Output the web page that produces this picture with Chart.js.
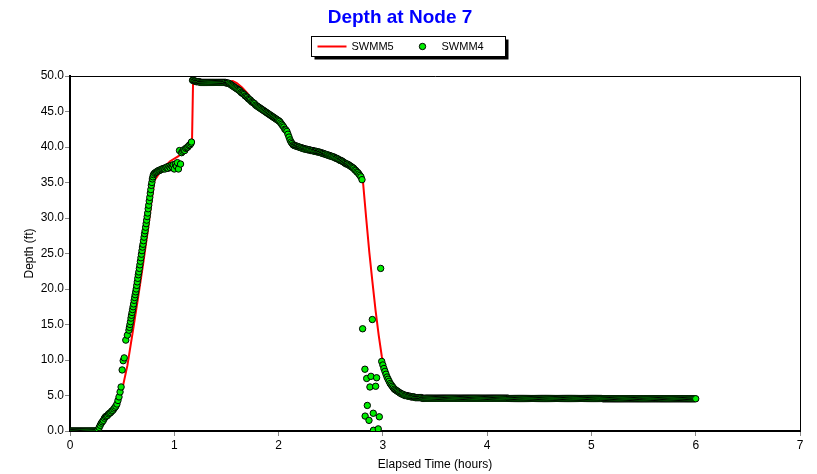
<!DOCTYPE html>
<html>
<head>
<meta charset="utf-8">
<title>Depth at Node 7</title>
<script src="https://cdn.jsdelivr.net/npm/chart.js@4.4.1/dist/chart.umd.min.js"></script>
<style>
  html, body { margin: 0; padding: 0; background: #fff; }
  #wrap { width: 817px; height: 474px; position: relative; }
</style>
</head>
<body>
<div id="wrap"><canvas id="depthChart"></canvas></div>
<script>
// SWMM5 results (red line)
const swmm5Hours = [
  0, 0.26, 0.30, 0.35, 0.40, 0.45, 0.50, 0.55, 0.60, 0.65,
  0.70, 0.75, 0.78, 0.81, 0.88, 0.96, 1.04, 1.10, 1.17, 1.18,
  1.52, 1.56, 1.60, 1.65, 1.70, 1.75, 1.80, 1.90, 2.00, 2.05,
  2.10, 2.15, 2.30, 2.50, 2.70, 2.78, 2.81, 2.84, 2.87, 2.90,
  2.93, 2.96, 2.99, 3.02, 3.05, 3.10, 3.16, 3.25, 3.40, 3.60,
  6.00
];
const swmm5Depth = [
  0, 0, 0.9, 1.9, 2.7, 3.6, 5.8, 9.2, 13.8, 18.5,
  23.4, 28.6, 32.2, 35.3, 36.8, 38.0, 38.7, 39.5, 40.8, 49.2,
  49.2, 49.3, 49.0, 48.4, 47.6, 46.5, 45.8, 44.7, 43.7, 42.9,
  41.5, 40.2, 39.6, 38.8, 37.2, 36.0, 35.0, 30.0, 25.2, 21.0,
  17.0, 13.5, 10.5, 8.6, 7.4, 6.1, 5.3, 4.9, 4.7, 4.6,
  4.55
];

// SWMM4 results (green markers)
const swmm4Hours = [
  // dry start
  0, 0.01, 0.02, 0.03, 0.04, 0.05, 0.06, 0.07, 0.08, 0.09,
  0.10, 0.11, 0.12, 0.13, 0.14, 0.15, 0.16, 0.17, 0.18, 0.19,
  0.20, 0.21, 0.22, 0.23, 0.24, 0.25, 0.26,
  // first rise
  0.27, 0.28, 0.29, 0.30, 0.31, 0.32, 0.33, 0.34, 0.35, 0.36,
  0.37, 0.38, 0.39, 0.40, 0.41, 0.42, 0.43, 0.44, 0.45, 0.46,
  0.47, 0.48, 0.49, 0.50, 0.51, 0.52, 0.535, 0.55, 0.565,
  // steep rise
  0.57, 0.575, 0.58, 0.585, 0.59, 0.595, 0.60, 0.605, 0.61, 0.615,
  0.62, 0.625, 0.63, 0.635, 0.64, 0.645, 0.65, 0.655, 0.66, 0.665,
  0.67, 0.675, 0.68, 0.685, 0.69, 0.695, 0.70, 0.705, 0.71, 0.715,
  0.72, 0.725, 0.73, 0.735, 0.74, 0.745, 0.75, 0.755, 0.76, 0.765,
  0.77, 0.775, 0.78, 0.785, 0.79, 0.795, 0.80,
  // shoulder
  0.81, 0.82, 0.83, 0.84, 0.85, 0.86, 0.87, 0.88, 0.89, 0.90,
  0.91, 0.92, 0.93, 0.94, 0.95, 0.96, 0.97, 0.98, 0.99, 1.00,
  1.01, 1.02, 1.03, 1.04, 1.05, 1.06, 1.07, 1.08, 1.09, 1.10,
  1.11, 1.12, 1.13, 1.14, 1.15, 1.16, 1.165,
  // peak
  1.175, 1.18, 1.19, 1.20, 1.21, 1.22, 1.23, 1.24, 1.25, 1.26,
  1.27, 1.28, 1.29, 1.30, 1.31, 1.32, 1.33, 1.34, 1.35, 1.36,
  1.37, 1.38, 1.39, 1.40, 1.41, 1.42, 1.43, 1.44, 1.45, 1.46,
  1.47, 1.48, 1.49, 1.50, 1.51,
  // recession
  1.52, 1.53, 1.54, 1.55, 1.56, 1.57, 1.58, 1.59, 1.60, 1.61,
  1.62, 1.63, 1.64, 1.65, 1.66, 1.67, 1.68, 1.69, 1.70, 1.71,
  1.72, 1.73, 1.74, 1.75, 1.76, 1.77, 1.78, 1.79, 1.80, 1.81,
  1.82, 1.83, 1.84, 1.85, 1.86, 1.87, 1.88, 1.89, 1.90, 1.91,
  1.92, 1.93, 1.94, 1.95, 1.96, 1.97, 1.98, 1.99, 2.00, 2.01,
  2.02, 2.03, 2.04, 2.05, 2.06, 2.07, 2.08, 2.09, 2.10, 2.11,
  2.12, 2.13, 2.14, 2.15,
  2.16, 2.17, 2.18, 2.19, 2.20, 2.21, 2.22, 2.23, 2.24, 2.25,
  2.26, 2.27, 2.28, 2.29, 2.30, 2.31, 2.32, 2.33, 2.34, 2.35,
  2.36, 2.37, 2.38, 2.39, 2.40, 2.41, 2.42, 2.43, 2.44, 2.45,
  2.46, 2.47, 2.48, 2.49, 2.50, 2.51, 2.52, 2.53, 2.54, 2.55,
  2.56, 2.57, 2.58, 2.59, 2.60, 2.61, 2.62, 2.63, 2.64, 2.65,
  2.66, 2.67, 2.68, 2.69, 2.70, 2.71, 2.72, 2.73, 2.74, 2.75,
  2.76, 2.77, 2.78, 2.79, 2.80,
  // unstable drawdown
  2.806, 2.828, 2.83, 2.845, 2.851, 2.867, 2.876, 2.886, 2.899, 2.908,
  2.91, 2.931, 2.94, 2.956, 2.966, 2.979, 2.989,
  // tail off
  3.00, 3.01, 3.02, 3.03, 3.04, 3.05, 3.06, 3.07, 3.08, 3.09,
  3.10, 3.11, 3.12, 3.13, 3.14, 3.15, 3.16, 3.17, 3.18, 3.19,
  3.20, 3.21, 3.22, 3.23, 3.24, 3.25, 3.26, 3.27, 3.28, 3.29,
  3.30, 3.31, 3.32, 3.33, 3.34, 3.35, 3.36, 3.37, 3.38, 3.39,
  3.40,
  // base level
  3.41, 3.42, 3.43, 3.44, 3.45, 3.46, 3.47, 3.48, 3.49, 3.50,
  3.51, 3.52, 3.53, 3.54, 3.55, 3.56, 3.57, 3.58, 3.59, 3.60,
  3.61, 3.62, 3.63, 3.64, 3.65, 3.66, 3.67, 3.68, 3.69, 3.70,
  3.71, 3.72, 3.73, 3.74, 3.75, 3.76, 3.77, 3.78, 3.79, 3.80,
  3.81, 3.82, 3.83, 3.84, 3.85, 3.86, 3.87, 3.88, 3.89, 3.90,
  3.91, 3.92, 3.93, 3.94, 3.95, 3.96, 3.97, 3.98, 3.99, 4.00,
  4.01, 4.02, 4.03, 4.04, 4.05, 4.06, 4.07, 4.08, 4.09, 4.10,
  4.11, 4.12, 4.13, 4.14, 4.15, 4.16, 4.17, 4.18, 4.19, 4.20,
  4.21, 4.22, 4.23, 4.24, 4.25, 4.26, 4.27, 4.28, 4.29, 4.30,
  4.31, 4.32, 4.33, 4.34, 4.35, 4.36, 4.37, 4.38, 4.39, 4.40,
  4.41, 4.42, 4.43, 4.44, 4.45, 4.46, 4.47, 4.48, 4.49, 4.50,
  4.51, 4.52, 4.53, 4.54, 4.55, 4.56, 4.57, 4.58, 4.59, 4.60,
  4.61, 4.62, 4.63, 4.64, 4.65, 4.66, 4.67, 4.68, 4.69, 4.70,
  4.71, 4.72, 4.73, 4.74, 4.75, 4.76, 4.77, 4.78, 4.79, 4.80,
  4.81, 4.82, 4.83, 4.84, 4.85, 4.86, 4.87, 4.88, 4.89, 4.90,
  4.91, 4.92, 4.93, 4.94, 4.95, 4.96, 4.97, 4.98, 4.99, 5.00,
  5.01, 5.02, 5.03, 5.04, 5.05, 5.06, 5.07, 5.08, 5.09, 5.10,
  5.11, 5.12, 5.13, 5.14, 5.15, 5.16, 5.17, 5.18, 5.19, 5.20,
  5.21, 5.22, 5.23, 5.24, 5.25, 5.26, 5.27, 5.28, 5.29, 5.30,
  5.31, 5.32, 5.33, 5.34, 5.35, 5.36, 5.37, 5.38, 5.39, 5.40,
  5.41, 5.42, 5.43, 5.44, 5.45, 5.46, 5.47, 5.48, 5.49, 5.50,
  5.51, 5.52, 5.53, 5.54, 5.55, 5.56, 5.57, 5.58, 5.59, 5.60,
  5.61, 5.62, 5.63, 5.64, 5.65, 5.66, 5.67, 5.68, 5.69, 5.70,
  5.71, 5.72, 5.73, 5.74, 5.75, 5.76, 5.77, 5.78, 5.79, 5.80,
  5.81, 5.82, 5.83, 5.84, 5.85, 5.86, 5.87, 5.88, 5.89, 5.90,
  5.91, 5.92, 5.93, 5.94, 5.95, 5.96, 5.97, 5.98, 5.99, 6.00
];
const swmm4Depth = [
  // dry start
  0, 0, 0, 0, 0, 0, 0, 0, 0, 0,
  0, 0, 0, 0, 0, 0, 0, 0, 0, 0,
  0, 0, 0, 0, 0, 0, 0,
  // first rise
  0.2, 0.5, 0.8, 1.1, 1.3, 1.5, 1.8, 2.0, 2.1, 2.2,
  2.4, 2.5, 2.6, 2.8, 2.9, 3.1, 3.3, 3.5, 3.8, 4.3,
  4.8, 5.5, 6.2, 8.6, 9.9, 10.3, 12.8, 13.5, 14.2,
  // steep rise
  14.6, 15.0, 15.4, 15.9, 16.3, 16.7, 17.1, 17.5, 17.9, 18.4,
  18.8, 19.2, 19.6, 20.0, 20.5, 21.0, 21.5, 22.0, 22.4, 22.9,
  23.4, 23.9, 24.4, 24.9, 25.4, 25.9, 26.3, 26.8, 27.3, 27.8,
  28.2, 28.7, 29.2, 29.7, 30.2, 30.7, 31.3, 31.8, 32.4, 32.9,
  33.5, 34.0, 34.6, 35.0, 35.5, 35.8, 36.1,
  // shoulder
  36.3, 36.4, 36.5, 36.6, 36.7, 36.7, 36.8, 36.9, 36.9, 37.0,
  36.9, 37.1, 37.2, 37.0, 37.3, 37.1, 37.4, 37.2, 37.5, 36.9,
  37.6, 37.3, 37.8, 36.9, 39.5, 37.6, 39.2, 39.4, 39.6, 39.5,
  39.8, 39.9, 40.0, 40.2, 40.3, 40.5, 40.7,
  // peak
  49.4, 49.4, 49.3, 49.3, 49.2, 49.2, 49.2, 49.2, 49.1, 49.1,
  49.1, 49.1, 49.1, 49.1, 49.1, 49.1, 49.1, 49.1, 49.1, 49.1,
  49.1, 49.1, 49.1, 49.1, 49.1, 49.1, 49.1, 49.1, 49.1, 49.1,
  49.1, 49.1, 49.1, 49.0, 49.0,
  // recession
  49.0, 48.9, 48.8, 48.7, 48.6, 48.5, 48.4, 48.3, 48.2, 48.1,
  48.0, 47.9, 47.7, 47.6, 47.5, 47.4, 47.2, 47.1, 47.0, 46.8,
  46.7, 46.6, 46.4, 46.3, 46.2, 46.1, 45.9, 45.8, 45.7, 45.6,
  45.5, 45.4, 45.3, 45.2, 45.1, 45.0, 44.9, 44.8, 44.7, 44.6,
  44.5, 44.4, 44.3, 44.2, 44.1, 44.0, 43.9, 43.8, 43.7, 43.6,
  43.4, 43.2, 43.0, 42.8, 42.5, 42.4, 42.2, 41.8, 41.4, 41.0,
  40.7, 40.5, 40.3, 40.2,
  40.2, 40.1, 40.1, 40.0, 40.0, 39.9, 39.9, 39.8, 39.8, 39.7,
  39.7, 39.7, 39.6, 39.6, 39.6, 39.5, 39.5, 39.5, 39.4, 39.4,
  39.4, 39.3, 39.3, 39.3, 39.2, 39.2, 39.1, 39.1, 39.0, 39.0,
  38.9, 38.9, 38.8, 38.8, 38.7, 38.7, 38.6, 38.6, 38.5, 38.4,
  38.4, 38.3, 38.2, 38.1, 38.1, 38.0, 37.9, 37.8, 37.7, 37.6,
  37.6, 37.5, 37.4, 37.3, 37.2, 37.1, 37.0, 36.8, 36.7, 36.5,
  36.4, 36.2, 36.0, 35.8, 35.4,
  // unstable drawdown
  14.4, 8.7, 2.1, 7.4, 3.6, 1.5, 6.2, 7.7, 15.7, 2.5,
  0.1, 6.3, 7.5, 0.3, 2.0, 22.9, 9.8,
  // tail off
  9.3, 8.8, 8.4, 8.0, 7.6, 7.3, 7.0, 6.7, 6.5, 6.3,
  6.1, 5.9, 5.8, 5.7, 5.6, 5.5, 5.4, 5.3, 5.2, 5.2,
  5.1, 5.0, 5.0, 5.0, 4.9, 4.9, 4.9, 4.8, 4.8, 4.8,
  4.8, 4.7, 4.7, 4.7, 4.7, 4.7, 4.7, 4.7, 4.6, 4.6,
  4.6,
  // base level
  4.62, 4.62, 4.62, 4.62, 4.62, 4.62, 4.62, 4.62, 4.62, 4.62,
  4.62, 4.62, 4.62, 4.62, 4.62, 4.62, 4.62, 4.62, 4.62, 4.62,
  4.62, 4.62, 4.62, 4.62, 4.62, 4.62, 4.62, 4.62, 4.62, 4.62,
  4.62, 4.62, 4.62, 4.62, 4.62, 4.62, 4.62, 4.62, 4.62, 4.62,
  4.62, 4.62, 4.62, 4.62, 4.62, 4.62, 4.62, 4.62, 4.62, 4.62,
  4.62, 4.62, 4.62, 4.62, 4.62, 4.62, 4.62, 4.62, 4.62, 4.62,
  4.62, 4.62, 4.62, 4.62, 4.62, 4.62, 4.62, 4.62, 4.62, 4.62,
  4.62, 4.62, 4.62, 4.62, 4.62, 4.62, 4.62, 4.62, 4.62, 4.62,
  4.58, 4.58, 4.58, 4.58, 4.58, 4.58, 4.58, 4.58, 4.58, 4.58,
  4.58, 4.58, 4.58, 4.58, 4.58, 4.58, 4.58, 4.58, 4.58, 4.58,
  4.58, 4.58, 4.58, 4.58, 4.58, 4.58, 4.58, 4.58, 4.58, 4.58,
  4.58, 4.58, 4.58, 4.58, 4.58, 4.58, 4.58, 4.58, 4.58, 4.58,
  4.58, 4.58, 4.58, 4.58, 4.58, 4.58, 4.58, 4.58, 4.58, 4.58,
  4.58, 4.58, 4.58, 4.58, 4.58, 4.58, 4.58, 4.58, 4.58, 4.58,
  4.58, 4.58, 4.58, 4.58, 4.58, 4.58, 4.58, 4.58, 4.58, 4.58,
  4.58, 4.58, 4.58, 4.58, 4.58, 4.58, 4.58, 4.58, 4.58, 4.58,
  4.58, 4.58, 4.58, 4.58, 4.58, 4.58, 4.58, 4.58, 4.58, 4.58,
  4.54, 4.54, 4.54, 4.54, 4.54, 4.54, 4.54, 4.54, 4.54, 4.54,
  4.54, 4.54, 4.54, 4.54, 4.54, 4.54, 4.54, 4.54, 4.54, 4.54,
  4.54, 4.54, 4.54, 4.54, 4.54, 4.54, 4.54, 4.54, 4.54, 4.54,
  4.54, 4.54, 4.54, 4.54, 4.54, 4.54, 4.54, 4.54, 4.54, 4.54,
  4.54, 4.54, 4.54, 4.54, 4.54, 4.54, 4.54, 4.54, 4.54, 4.54,
  4.54, 4.54, 4.54, 4.54, 4.54, 4.54, 4.54, 4.54, 4.54, 4.54,
  4.54, 4.54, 4.54, 4.54, 4.54, 4.54, 4.54, 4.54, 4.54, 4.54,
  4.54, 4.54, 4.54, 4.54, 4.54, 4.54, 4.54, 4.54, 4.54, 4.54,
  4.54, 4.54, 4.54, 4.54, 4.54, 4.54, 4.54, 4.54, 4.54, 4.54
];

// axis ticks
const hourTicks = [0, 1, 2, 3, 4, 5, 6, 7];
const depthTicks = [0, 5, 10, 15, 20, 25, 30, 35, 40, 45, 50];

const FONT = "'Liberation Sans', Arial, sans-serif";
Chart.defaults.font.family = FONT;
Chart.defaults.color = "#000";

if (swmm4Hours.length !== swmm4Depth.length) console.warn("SWMM4 arrays differ", swmm4Hours.length, swmm4Depth.length);

function toPoints(hours, depth) {
  return hours.map((h, i) => ({ x: h, y: depth[i] }));
}

// thin frame on the top and right of the plot
const plotFrame = {
  id: "plotFrame",
  afterDraw(chart) {
    const { ctx, chartArea } = chart;
    ctx.save();
    ctx.strokeStyle = "#000";
    ctx.lineWidth = 1;
    ctx.beginPath();
    ctx.moveTo(chartArea.left, chartArea.top + 0.5);
    ctx.lineTo(chartArea.right + 0.5, chartArea.top + 0.5);
    ctx.lineTo(chartArea.right + 0.5, chartArea.bottom);
    ctx.stroke();
    ctx.restore();
  }
};

// legend in a box with a drop shadow
const boxedLegend = {
  id: "boxedLegend",
  afterDraw(chart) {
    const ctx = chart.ctx;
    const [line, dots] = chart.data.datasets;
    const w = 194, h = 20;
    const x = Math.round(chart.width / 2 - w / 2) - 0.5;
    const y = 36.5;
    const mid = y + h / 2;
    ctx.save();
    ctx.fillStyle = "#000";
    ctx.fillRect(x + 3, y + 3, w, h);
    ctx.fillStyle = "#fff";
    ctx.fillRect(x, y, w, h);
    ctx.strokeStyle = "#000";
    ctx.lineWidth = 1;
    ctx.strokeRect(x, y, w, h);

    ctx.strokeStyle = line.borderColor;
    ctx.lineWidth = 2;
    ctx.beginPath();
    ctx.moveTo(x + 6, mid);
    ctx.lineTo(x + 35, mid);
    ctx.stroke();

    ctx.beginPath();
    ctx.arc(x + 111, mid, 3.2, 0, Math.PI * 2);
    ctx.fillStyle = dots.pointBackgroundColor;
    ctx.fill();
    ctx.strokeStyle = dots.pointBorderColor;
    ctx.lineWidth = 1;
    ctx.stroke();

    ctx.fillStyle = "#000";
    ctx.font = "11px " + FONT;
    ctx.textBaseline = "middle";
    ctx.fillText(line.label, x + 40, mid);
    ctx.fillText(dots.label, x + 130, mid);
    ctx.restore();
  }
};

new Chart(document.getElementById("depthChart"), {
  type: "scatter",
  data: {
    datasets: [
      {
        label: "SWMM5",
        data: toPoints(swmm5Hours, swmm5Depth),
        showLine: true,
        borderColor: "#ff0000",
        borderWidth: 2,
        pointRadius: 0,
        tension: 0,
        order: 2
      },
      {
        label: "SWMM4",
        data: toPoints(swmm4Hours, swmm4Depth),
        showLine: false,
        pointRadius: 3.2,
        pointBackgroundColor: "#00ee00",
        pointBorderColor: "#000000",
        pointBorderWidth: 1,
        order: 1
      }
    ]
  },
  options: {
    responsive: true,
    maintainAspectRatio: false,
    animation: false,
    layout: { padding: { top: 0, right: 17, bottom: 0, left: 0 } },
    plugins: {
      legend: { display: false },
      tooltip: { enabled: false },
      title: {
        display: true,
        text: "Depth at Node 7",
        color: "#0000ff",
        font: { size: 19, weight: "bold" },
        padding: { top: 6, bottom: 47.2 }
      }
    },
    scales: {
      x: {
        type: "linear",
        min: hourTicks[0],
        max: hourTicks[hourTicks.length - 1],
        afterBuildTicks: (scale) => { scale.ticks = hourTicks.map(v => ({ value: v })); },
        ticks: { font: { size: 12 }, color: "#000", padding: 2, maxRotation: 0 },
        grid: { drawOnChartArea: false, drawTicks: true, tickLength: 5, color: "#888" },
        border: { display: true, color: "#000", width: 2 },
        title: { display: true, text: "Elapsed Time (hours)", font: { size: 12 }, padding: { top: 0, bottom: 2 } },
        afterFit: (scale) => { scale.height = 43; }
      },
      y: {
        type: "linear",
        min: depthTicks[0],
        max: depthTicks[depthTicks.length - 1],
        afterBuildTicks: (scale) => { scale.ticks = depthTicks.map(v => ({ value: v })); },
        ticks: { font: { size: 12 }, color: "#000", padding: 1, callback: (v) => Number(v).toFixed(1) },
        grid: { drawOnChartArea: false, drawTicks: true, tickLength: 5, color: "#888" },
        border: { display: true, color: "#000", width: 2 },
        title: { display: true, text: "Depth (ft)", font: { size: 12 }, padding: { top: 22, bottom: 0 } },
        afterFit: (scale) => { scale.width = 70; }
      }
    }
  },
  plugins: [plotFrame, boxedLegend]
});
</script>
</body>
</html>
